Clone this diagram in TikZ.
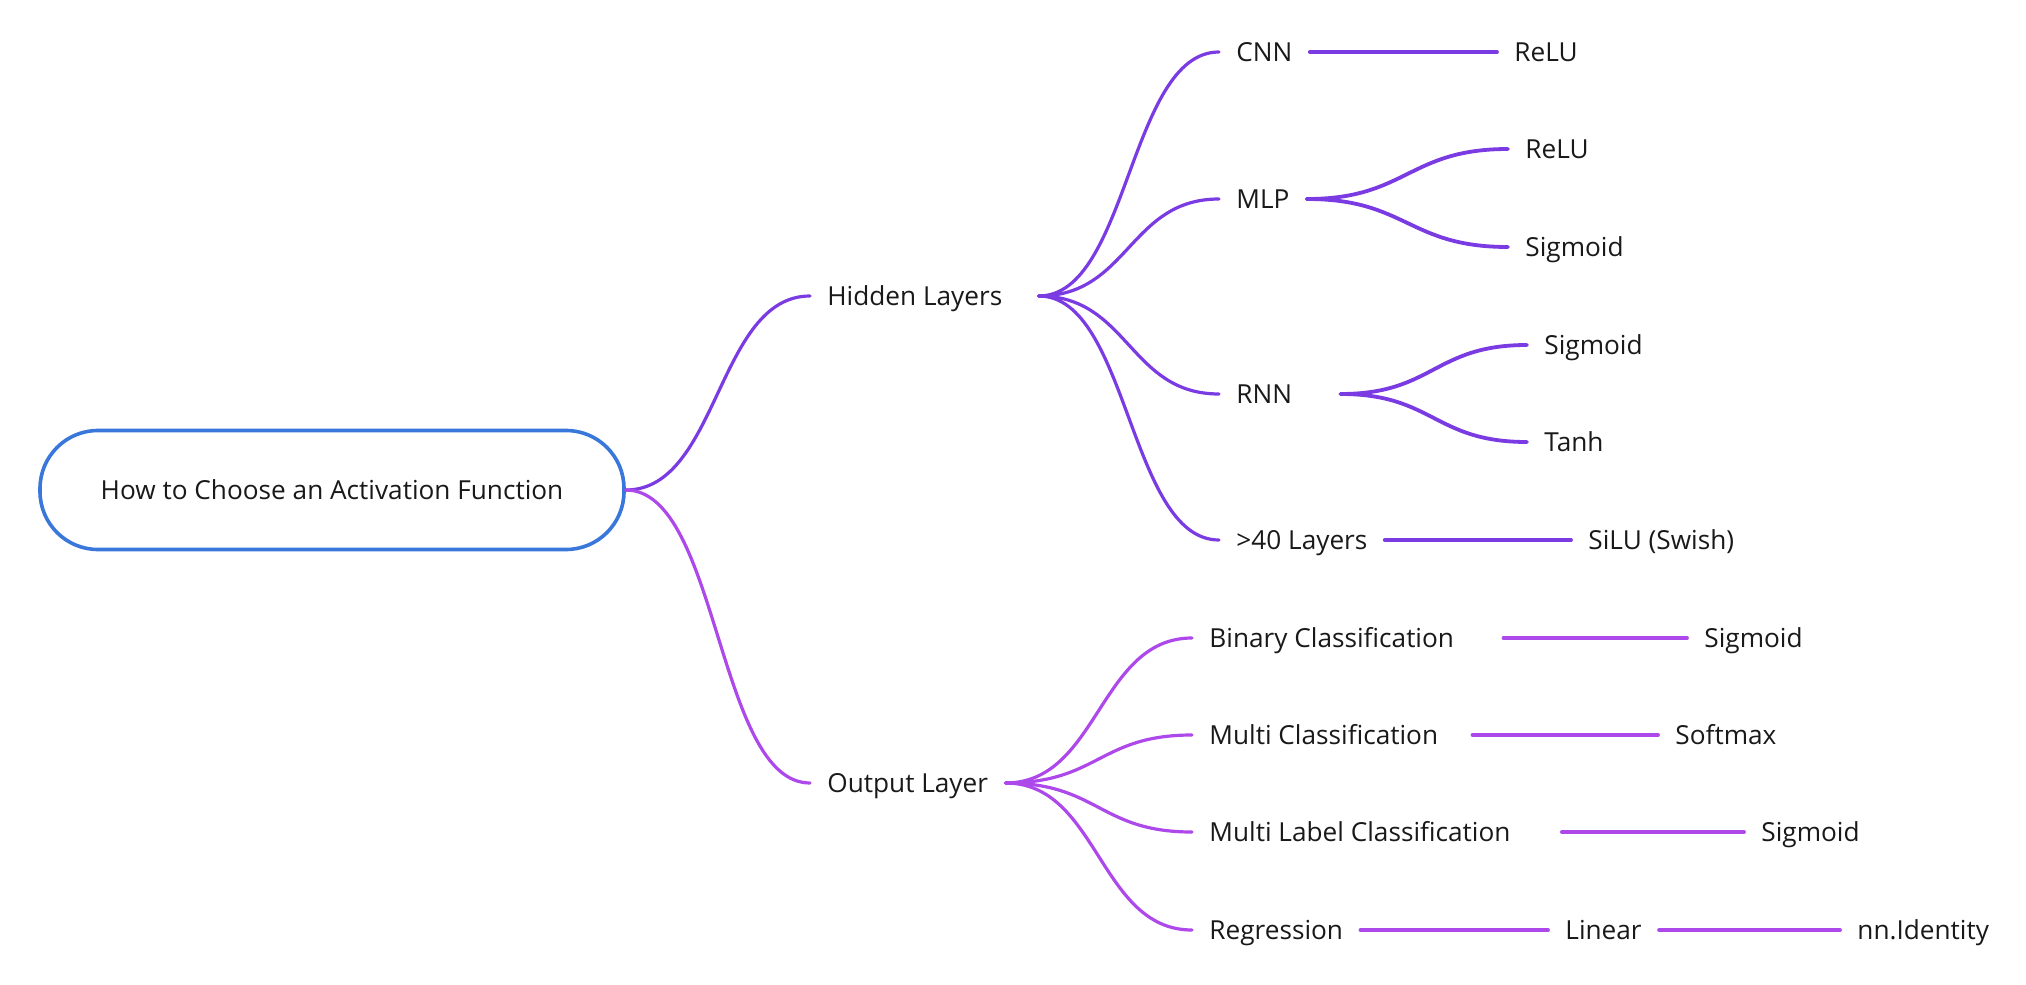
\documentclass[tikz,border=0pt]{standalone}
\usepackage{fontspec}
\setmainfont{Open Sans}
\usepackage{tikz}

\definecolor{rootblue}{HTML}{3A77DB}
\definecolor{hidpurple}{HTML}{7A3BE3}
\definecolor{outpurple}{HTML}{AD48EA}

\begin{document}
\begin{tikzpicture}[x=0.5pt,y=-0.5pt]
\tikzset{every node/.style={font=\fontsize{13.1}{15.5}\selectfont, text=black!90},
  item/.style={anchor=west, inner xsep=8.5pt, inner ysep=0pt, text height=9.4pt, text depth=0pt},
  hidline/.style={draw=hidpurple, line width=1.9pt, line cap=round},
  outline/.style={draw=outpurple, line width=1.9pt, line cap=round}}
\useasboundingbox (0,0) rectangle (2026,985);
% root
\node[draw=rootblue, line width=1.8pt, rounded corners=29pt, minimum width=292pt,
  minimum height=59.5pt] (root) at (332,490) {How to Choose an Activation Function};
% first level
\node[item] (hid) at (810,296) {Hidden Layers};
\node[item] (out) at (810,783) {Output Layer};
% hidden layers
\node[item] (cnn) at (1219,52) {CNN};
\node[item] (relua) at (1497,52) {ReLU};
\node[item] (mlp) at (1219,199) {MLP};
\node[item] (relub) at (1508,149) {ReLU};
\node[item] (siga) at (1508,247) {Sigmoid};
\node[item] (rnn) at (1219,394) {RNN};
\node[item] (sigb) at (1527,345) {Sigmoid};
\node[item] (tanh) at (1527,442) {Tanh};
\node[item] (deep) at (1219,540) {>40 Layers};
\node[item] (silu) at (1571,540) {SiLU (Swish)};
% output layer
\node[item] (bin) at (1192,638) {Binary Classification};
\node[item] (sigc) at (1687,638) {Sigmoid};
\node[item] (mcls) at (1192,735) {Multi Classification};
\node[item] (soft) at (1658,735) {Softmax};
\node[item] (mlab) at (1192,832) {Multi Label Classification};
\node[item] (sigd) at (1744,832) {Sigmoid};
\node[item] (reg) at (1192,930) {Regression};
\node[item] (lin) at (1548,930) {Linear};
\node[item] (ident) at (1840,930) {nn.Identity};
% connectors
\draw[hidline, line width=1.6pt] (root.east) .. controls +(93,0) and +(-93,0) .. (hid.west);
\draw[outline, line width=1.6pt] (root.east) .. controls +(93,0) and +(-93,0) .. (out.west);
\foreach \n in {cnn,mlp,rnn,deep}
  \draw[hidline, line width=1.6pt] ([xshift=9.5pt]hid.east) .. controls +(90,0) and +(-90,0) .. (\n.west);
\draw[hidline] (cnn.east) -- (relua.west);
\draw[hidline] (mlp.east) .. controls +(100,0) and +(-100,0) .. (relub.west);
\draw[hidline] (mlp.east) .. controls +(100,0) and +(-100,0) .. (siga.west);
\draw[hidline] ([xshift=15.5pt]rnn.east) .. controls +(93,0) and +(-93,0) .. (sigb.west);
\draw[hidline] ([xshift=15.5pt]rnn.east) .. controls +(93,0) and +(-93,0) .. (tanh.west);
\draw[hidline] (deep.east) -- (silu.west);
\foreach \n in {bin,mcls,mlab,reg}
  \draw[outline, line width=1.6pt] (out.east) .. controls +(93,0) and +(-93,0) .. (\n.west);
\draw[outline] ([xshift=16pt]bin.east) -- (sigc.west);
\draw[outline] ([xshift=8.5pt]mcls.east) -- (soft.west);
\draw[outline] ([xshift=17pt]mlab.east) -- (sigd.west);
\draw[outline] (reg.east) -- (lin.west);
\draw[outline] (lin.east) -- (ident.west);
\end{tikzpicture}
\end{document}
